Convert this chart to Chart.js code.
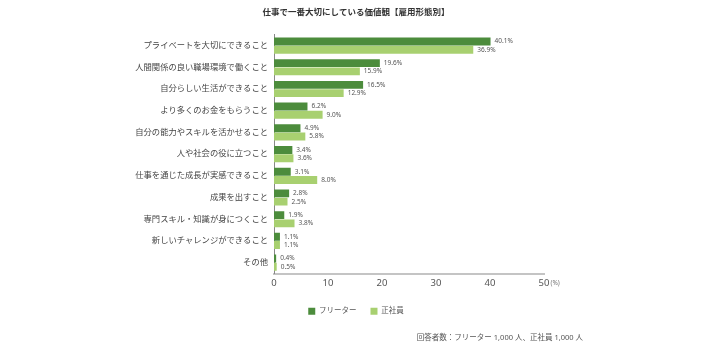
<!DOCTYPE html>
<html lang="ja">
<head>
<meta charset="utf-8">
<script src="https://cdn.jsdelivr.net/npm/chart.js@4"></script>
<style>
  html, body { margin: 0; padding: 0; background: #fff; }
  #wrap { width: 712px; height: 346px; }
</style>
</head>
<body>
<div id="wrap"><canvas id="valueChart" width="712" height="346"></canvas></div>
<script>
// 項目
const categories = [
    "プライベートを大切にできること",
    "人間関係の良い職場環境で働くこと",
    "自分らしい生活ができること",
    "より多くのお金をもらうこと",
    "自分の能力やスキルを活かせること",
    "人や社会の役に立つこと",
    "仕事を通じた成長が実感できること",
    "成果を出すこと",
    "専門スキル・知識が身につくこと",
    "新しいチャレンジができること",
    "その他"
];
// フリーター / 正社員 (%)
const freeterValues = [40.1, 19.6, 16.5, 6.2, 4.9, 3.4, 3.1, 2.8, 1.9, 1.1, 0.4];
const seishainValues = [36.9, 15.9, 12.9, 9.0, 5.8, 3.6, 8.0, 2.5, 3.8, 1.1, 0.5];
const seriesNames = ["フリーター", "正社員"];
const xTicks = [0, 10, 20, 30, 40, 50];
const titleText = "仕事で一番大切にしている価値観【雇用形態別】";
const noteText = "回答者数：フリーター 1,000 人、正社員 1,000 人";

const FONT = "'Noto Sans', 'Noto Sans CJK JP', sans-serif";

// 棒の右に数値を描く
const valueLabels = {
    id: "valueLabels",
    afterDatasetsDraw(chart) {
        const ctx = chart.ctx;
        ctx.save();
        ctx.font = "6.5px " + FONT;
        ctx.fillStyle = "#555";
        ctx.textAlign = "left";
        ctx.textBaseline = "middle";
        chart.data.datasets.forEach((ds, i) => {
            chart.getDatasetMeta(i).data.forEach((bar, j) => {
                ctx.fillText(ds.data[j].toFixed(1) + "%", bar.x + 4, bar.y);
            });
        });
        ctx.restore();
    }
};

// 50 の後ろの (%) と注記
const extraText = {
    id: "extraText",
    afterDraw(chart) {
        const ctx = chart.ctx;
        const x = chart.scales.x;
        ctx.save();
        ctx.font = "9.5px " + FONT;
        const w = ctx.measureText(String(xTicks[xTicks.length - 1])).width;
        ctx.font = "6.5px " + FONT;
        ctx.fillStyle = "#777";
        ctx.textAlign = "left";
        ctx.textBaseline = "middle";
        ctx.fillText("(%)", x.getPixelForValue(xTicks[xTicks.length - 1]) + w / 2 + 1, x.top + 10);
        ctx.font = "7.5px " + FONT;
        ctx.fillStyle = "#555";
        ctx.textAlign = "right";
        ctx.fillText(noteText, 583, 338);
        ctx.restore();
    }
};

let ctx = document.getElementById("valueChart").getContext("2d");
let chart = new Chart(ctx, {
    type: "bar",
    data: {
        labels: categories,
        datasets: [{
            label: seriesNames[0],
            data: freeterValues,
            backgroundColor: "#4c8c3c"
        }, {
            label: seriesNames[1],
            data: seishainValues,
            backgroundColor: "#a8d070"
        }]
    },
    options: {
        indexAxis: "y",
        responsive: false,
        animation: false,
        categoryPercentage: 0.76,
        barPercentage: 0.96,
        layout: { padding: { left: 0, right: 0, top: 0, bottom: 21 } },
        scales: {
            x: {
                min: 0,
                max: 50,
                afterBuildTicks: (scale) => { scale.ticks = xTicks.map(v => ({ value: v })); },
                afterFit: (scale) => { scale.height = 20; },
                grid: { display: false, drawTicks: false },
                border: { display: true, color: "#c4c4c4", width: 2 },
                ticks: { padding: 4, color: "#555", font: { family: FONT, size: 9.5 } }
            },
            y: {
                afterFit: (scale) => { scale.width = 274; },
                grid: { display: false, drawTicks: false },
                border: { display: true, color: "#888", width: 1 },
                ticks: { padding: 6, color: "#444", font: { family: FONT, size: 8.3 } }
            },
            // 右側の余白用（表示なし）
            yRight: {
                axis: "y",
                type: "category",
                position: "right",
                afterFit: (scale) => { scale.width = 168; },
                grid: { display: false, drawTicks: false },
                border: { display: false },
                ticks: { display: false }
            }
        },
        plugins: {
            title: {
                display: true,
                text: titleText,
                color: "#333",
                font: { family: FONT, size: 8.5, weight: "bold", lineHeight: 1.2 },
                padding: { top: 7.5, bottom: 17 }
            },
            legend: {
                position: "bottom",
                labels: {
                    boxWidth: 7,
                    boxHeight: 7,
                    padding: 14,
                    color: "#555",
                    font: { family: FONT, size: 7.5 }
                }
            },
            tooltip: { enabled: false }
        }
    },
    plugins: [valueLabels, extraText]
});
</script>
</body>
</html>
